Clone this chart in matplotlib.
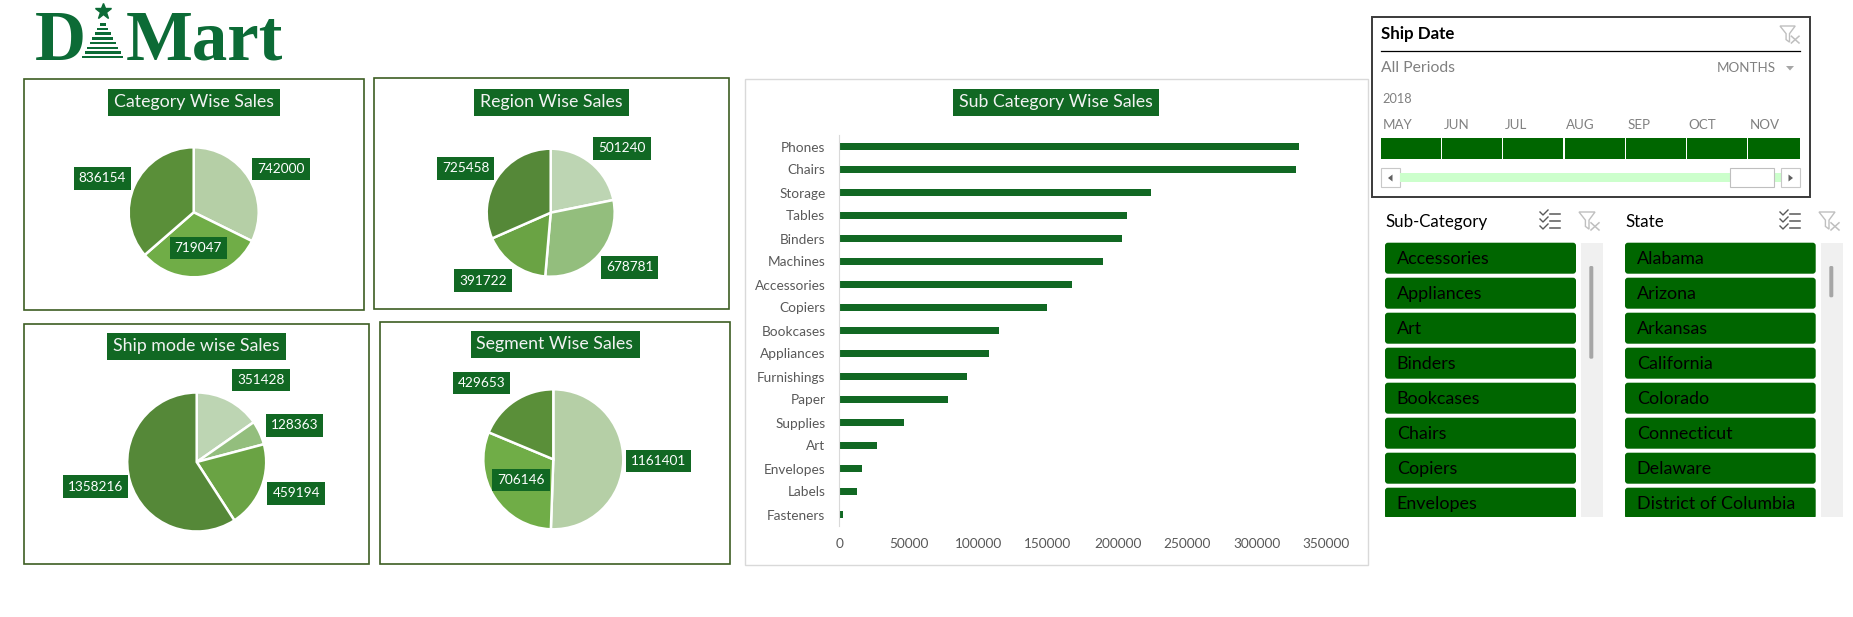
import matplotlib
matplotlib.use('Agg')
import matplotlib.pyplot as plt
from matplotlib.patches import Rectangle, FancyBboxPatch, Polygon
from matplotlib.transforms import IdentityTransform
import numpy as np

# ---------------- data ----------------
category_labels = ['Furniture', 'Office Supplies', 'Technology']
category_sales = [742000, 719047, 836154]

region_labels = ['Central', 'East', 'South', 'West']
region_sales = [501240, 678781, 391722, 725458]

shipmode_labels = ['First Class', 'Same Day', 'Second Class', 'Standard Class']
shipmode_sales = [351428, 128363, 459194, 1358216]

segment_labels = ['Consumer', 'Corporate', 'Home Office']
segment_sales = [1161401, 706146, 429653]

subcat_labels = ['Phones', 'Chairs', 'Storage', 'Tables', 'Binders', 'Machines',
                 'Accessories', 'Copiers', 'Bookcases', 'Appliances', 'Furnishings',
                 'Paper', 'Supplies', 'Art', 'Envelopes', 'Labels', 'Fasteners']
subcat_sales = [330007, 328449, 223844, 206966, 203413, 189239, 167380, 149528,
                114880, 107532, 91705, 78479, 46674, 27119, 16476, 12486, 3024]
subcat_xticks = [0, 50000, 100000, 150000, 200000, 250000, 300000, 350000]

timeline_year = '2018'
timeline_months = ['MAY', 'JUN', 'JUL', 'AUG', 'SEP', 'OCT', 'NOV']
slicer_subcats = ['Accessories', 'Appliances', 'Art', 'Binders', 'Bookcases',
                  'Chairs', 'Copiers', 'Envelopes']
slicer_states = ['Alabama', 'Arizona', 'Arkansas', 'California', 'Colorado',
                 'Connecticut', 'Delaware', 'District of Columbia']

# ---------------- style ----------------
plt.rcParams['font.family'] = ['Lato', 'DejaVu Sans']
W, H, DPI = 1853, 617, 100
DARK = '#116823'
BOXEDGE = '#3D5E22'
SLICER_GREEN = '#006600'
PIE3 = ['#B5CFA6', '#70AD47', '#5A8F39']
PIE4 = ['#BDD5B3', '#93BE7D', '#6AA344', '#558838']
LOGO = '#0C6B36'

fig = plt.figure(figsize=(W / DPI, H / DPI), dpi=DPI)
fig.patch.set_facecolor('white')
bg = fig.add_axes([0, 0, 1, 1])
bg.set_xlim(0, W)
bg.set_ylim(H, 0)
bg.axis('off')

boxed = []  # (axes, text, horizontal pad px, box height px)


def frac(x0, y0, x1, y1):
    return [x0 / W, 1 - y1 / H, (x1 - x0) / W, (y1 - y0) / H]


def rect(x0, y0, x1, y1, **kw):
    p = Rectangle((x0, y0), x1 - x0, y1 - y0, **kw)
    bg.add_patch(p)
    return p


def title(cx, cy, s):
    t = bg.text(cx, cy, s, ha='center', va='center', color='#F2F2F2', fontsize=12.8,
                zorder=5)
    boxed.append((bg, t, 6.0, 27.5))


# ---------------- logo ----------------
bg.text(35, 60, 'D', fontsize=51, family=['Liberation Serif'], weight='bold',
        color=LOGO, va='baseline', ha='left')
bg.text(126, 60, 'Mart', fontsize=51, family=['Liberation Serif'], weight='bold',
        color=LOGO, va='baseline', ha='left')
apex_y, base_y, tcx = 20, 60, 102.7
for k in range(8):
    yy = 23 + k * 4.7
    half = (yy + 2.6 - apex_y) / (base_y - apex_y) * 21.5
    rect(tcx - half, yy, tcx + half, yy + 2.6, fc=LOGO, ec='none')
bg.plot([tcx], [11], marker='*', ms=12, color=LOGO, mec=LOGO)


# ---------------- pie charts ----------------
def pie_chart(box, cx, cy, r, values, colors, inside, ttl, tcy):
    rect(*box, fill=False, ec=BOXEDGE, lw=1.2)
    title((box[0] + box[2]) / 2, tcy, ttl)
    ax = fig.add_axes(frac(cx - r, cy - r, cx + r, cy + r))
    wedges, _ = ax.pie(values, colors=colors, startangle=90, counterclock=False,
                       wedgeprops=dict(edgecolor='white', linewidth=1.8))
    ax.set_xlim(-1, 1)
    ax.set_ylim(-1, 1)
    ax.set_aspect('equal')
    ax.axis('off')
    for i, (w, v) in enumerate(zip(wedges, values)):
        ang = np.deg2rad((w.theta1 + w.theta2) / 2)
        ux, uy = np.cos(ang), np.sin(ang)
        if i in inside:
            px, py = 0.55 * ux, 0.55 * uy
        else:
            phi = np.arctan2(abs(uy), abs(ux)) * 0.83
            px = 1.5 * np.sign(ux) * np.cos(phi)
            py = 1.5 * np.sign(uy) * np.sin(phi)
        t = ax.text(px, py, f'{v}', ha='center', va='center', color='white',
                    fontsize=9.8, clip_on=False, zorder=5)
        boxed.append((ax, t, 5.0, 22.5))


pie_chart((23.6, 79, 364, 309.5), 193.7, 212.3, 65, category_sales, PIE3, [1],
          'Category Wise Sales', 102.5)
pie_chart((374.3, 78.3, 728.7, 309), 550.7, 212.7, 64, region_sales, PIE4, [],
          'Region Wise Sales', 102.5)
pie_chart((24.3, 323.7, 368.7, 564.3), 196.7, 462, 69.5, shipmode_sales, PIE4, [],
          'Ship mode wise Sales', 346.5)
pie_chart((380.3, 321.7, 729.7, 564), 553.3, 459.3, 70, segment_sales, PIE3, [1],
          'Segment Wise Sales', 344.5)

# ---------------- bar chart ----------------
rect(744.7, 79, 1368, 565, fill=False, ec='#D9D9D9', lw=1.0)
title(1056, 102.5, 'Sub Category Wise Sales')
axb = fig.add_axes(frac(839.2, 135, 1326.5, 526))
axb.set_facecolor('none')
ypos = np.arange(len(subcat_labels))
axb.barh(ypos, subcat_sales, height=0.34, color=DARK)
axb.set_ylim(len(subcat_labels) - 0.5, -0.5)
axb.set_xlim(subcat_xticks[0], subcat_xticks[-1])
axb.set_yticks(ypos)
axb.set_yticklabels(subcat_labels)
axb.set_xticks(subcat_xticks)
axb.set_xticklabels([str(t) for t in subcat_xticks])
axb.tick_params(axis='both', length=0, labelsize=9.8, labelcolor='#595959')
axb.tick_params(axis='y', pad=10)
axb.tick_params(axis='x', pad=9)
for s in ['top', 'right', 'bottom']:
    axb.spines[s].set_visible(False)
axb.spines['left'].set_color('#D9D9D9')
axb.spines['left'].set_linewidth(0.8)

# ---------------- Ship Date timeline ----------------
rect(1371.7, 16.7, 1810, 197.3, fc='white', ec='#3A3A3A', lw=1.4)
bg.text(1381, 34.5, 'Ship Date', fontsize=12.2, weight='bold', color='black',
        ha='left', va='center')
bg.plot([1381, 1800], [51.3, 51.3], color='black', lw=0.9)


def filter_icon(x0, y0, w, h, col):
    funnel = Polygon([(x0, y0), (x0 + w * 0.8, y0), (x0 + w * 0.5, y0 + h * 0.45),
                      (x0 + w * 0.5, y0 + h * 0.95), (x0 + w * 0.32, y0 + h * 0.8),
                      (x0 + w * 0.32, y0 + h * 0.45)], closed=True, fill=False,
                     ec=col, lw=1.0)
    bg.add_patch(funnel)
    bg.plot([x0 + w * 0.6, x0 + w], [y0 + h * 0.6, y0 + h], color=col, lw=1.1)
    bg.plot([x0 + w * 0.6, x0 + w], [y0 + h, y0 + h * 0.6], color=col, lw=1.1)


def multi_icon(x0, y0, col):
    for k in range(3):
        yy = y0 + 2 + k * 7
        bg.plot([x0 + 10, x0 + 20], [yy, yy], color=col, lw=1.1)
        bg.plot([x0, x0 + 3, x0 + 8], [yy - 2, yy + 1, yy - 4], color=col, lw=1.0)


filter_icon(1780, 26, 19, 17, '#BFBFBF')
bg.text(1381, 68, 'All Periods', fontsize=11.3, color='#808080', ha='left', va='center')
bg.text(1776, 68, 'MONTHS', fontsize=9.6, color='#808080', ha='right', va='center')
bg.add_patch(Polygon([(1786, 66), (1794, 66), (1790, 70.5)], closed=True,
                     fc='#A6A6A6', ec='none'))
bg.text(1382.5, 99, timeline_year, fontsize=9.2, color='#808080', ha='left', va='center')
cell_w = 61.2
for i, m in enumerate(timeline_months):
    x0 = 1381 + i * cell_w
    x1 = min(x0 + cell_w - 1.2, 1800)
    bg.text(x0 + 1.7, 125, m, fontsize=9.6, color='#808080', ha='left', va='center')
    rect(x0, 137.7, x1, 159, fc=SLICER_GREEN, ec='none')
# scroll bar
rect(1381, 168.3, 1400, 187.3, fc='white', ec='#C8C8C8', lw=0.8)
bg.add_patch(Polygon([(1388, 178), (1392.5, 174.5), (1392.5, 181.5)], closed=True,
                     fc='#606060', ec='none'))
rect(1400, 173, 1781.3, 182, fc='#CCFFCC', ec='none')
rect(1730, 168.3, 1774, 187.3, fc='white', ec='#BFBFBF', lw=0.8)
rect(1781.3, 168.3, 1800, 187.3, fc='white', ec='#C8C8C8', lw=0.8)
bg.add_patch(Polygon([(1793, 178), (1788.5, 174.5), (1788.5, 181.5)], closed=True,
                     fc='#606060', ec='none'))


# ---------------- list slicers ----------------
def list_slicer(x0, x1, header, items, icon1_x, icon2_x, track_x, thumb_y1):
    bg.text(x0, 222, header, fontsize=12.2, color='black', ha='left', va='center')
    multi_icon(icon1_x, 212, '#595959')
    filter_icon(icon2_x, 212, 20, 18, '#BFBFBF')
    clip = Rectangle((x0 - 2, 240), x1 - x0 + 4, 276.7, transform=bg.transData)
    for i, s in enumerate(items):
        top = 242.7 + i * 35
        p = FancyBboxPatch((x0, top), x1 - x0, 31, boxstyle='round,pad=0,rounding_size=3',
                           fc=SLICER_GREEN, ec='none')
        bg.add_patch(p)
        p.set_clip_path(clip)
        t = bg.text(x0 + 11.7, top + 16, s, fontsize=12.9, color='black', ha='left',
                    va='center')
        t.set_clip_path(clip)
    rect(track_x, 242.7, track_x + 21.7, 516.7, fc='#F0F0F0', ec='none')
    bg.add_patch(FancyBboxPatch((track_x + 8.3, 266), 4, thumb_y1 - 266,
                                boxstyle='round,pad=0,rounding_size=1.5',
                                fc='#A6A6A6', ec='none'))


list_slicer(1385, 1576, 'Sub-Category', slicer_subcats, 1540, 1579, 1581, 358.7)
list_slicer(1625, 1815.7, 'State', slicer_states, 1780, 1819, 1821, 297.3)

# ---------------- label / title boxes sized to their text ----------------
fig.canvas.draw()
renderer = fig.canvas.get_renderer()
for ax, t, hpad, bh in boxed:
    bb = t.get_window_extent(renderer)
    cy = ax.transData.transform(t.get_position())[1]
    r = Rectangle((bb.x0 - hpad, cy - bh / 2), bb.width + 2 * hpad, bh,
                  transform=IdentityTransform(), fc=DARK, ec='none', zorder=4,
                  clip_on=False)
    ax.add_artist(r)

fig.savefig('out.png', dpi=DPI)
